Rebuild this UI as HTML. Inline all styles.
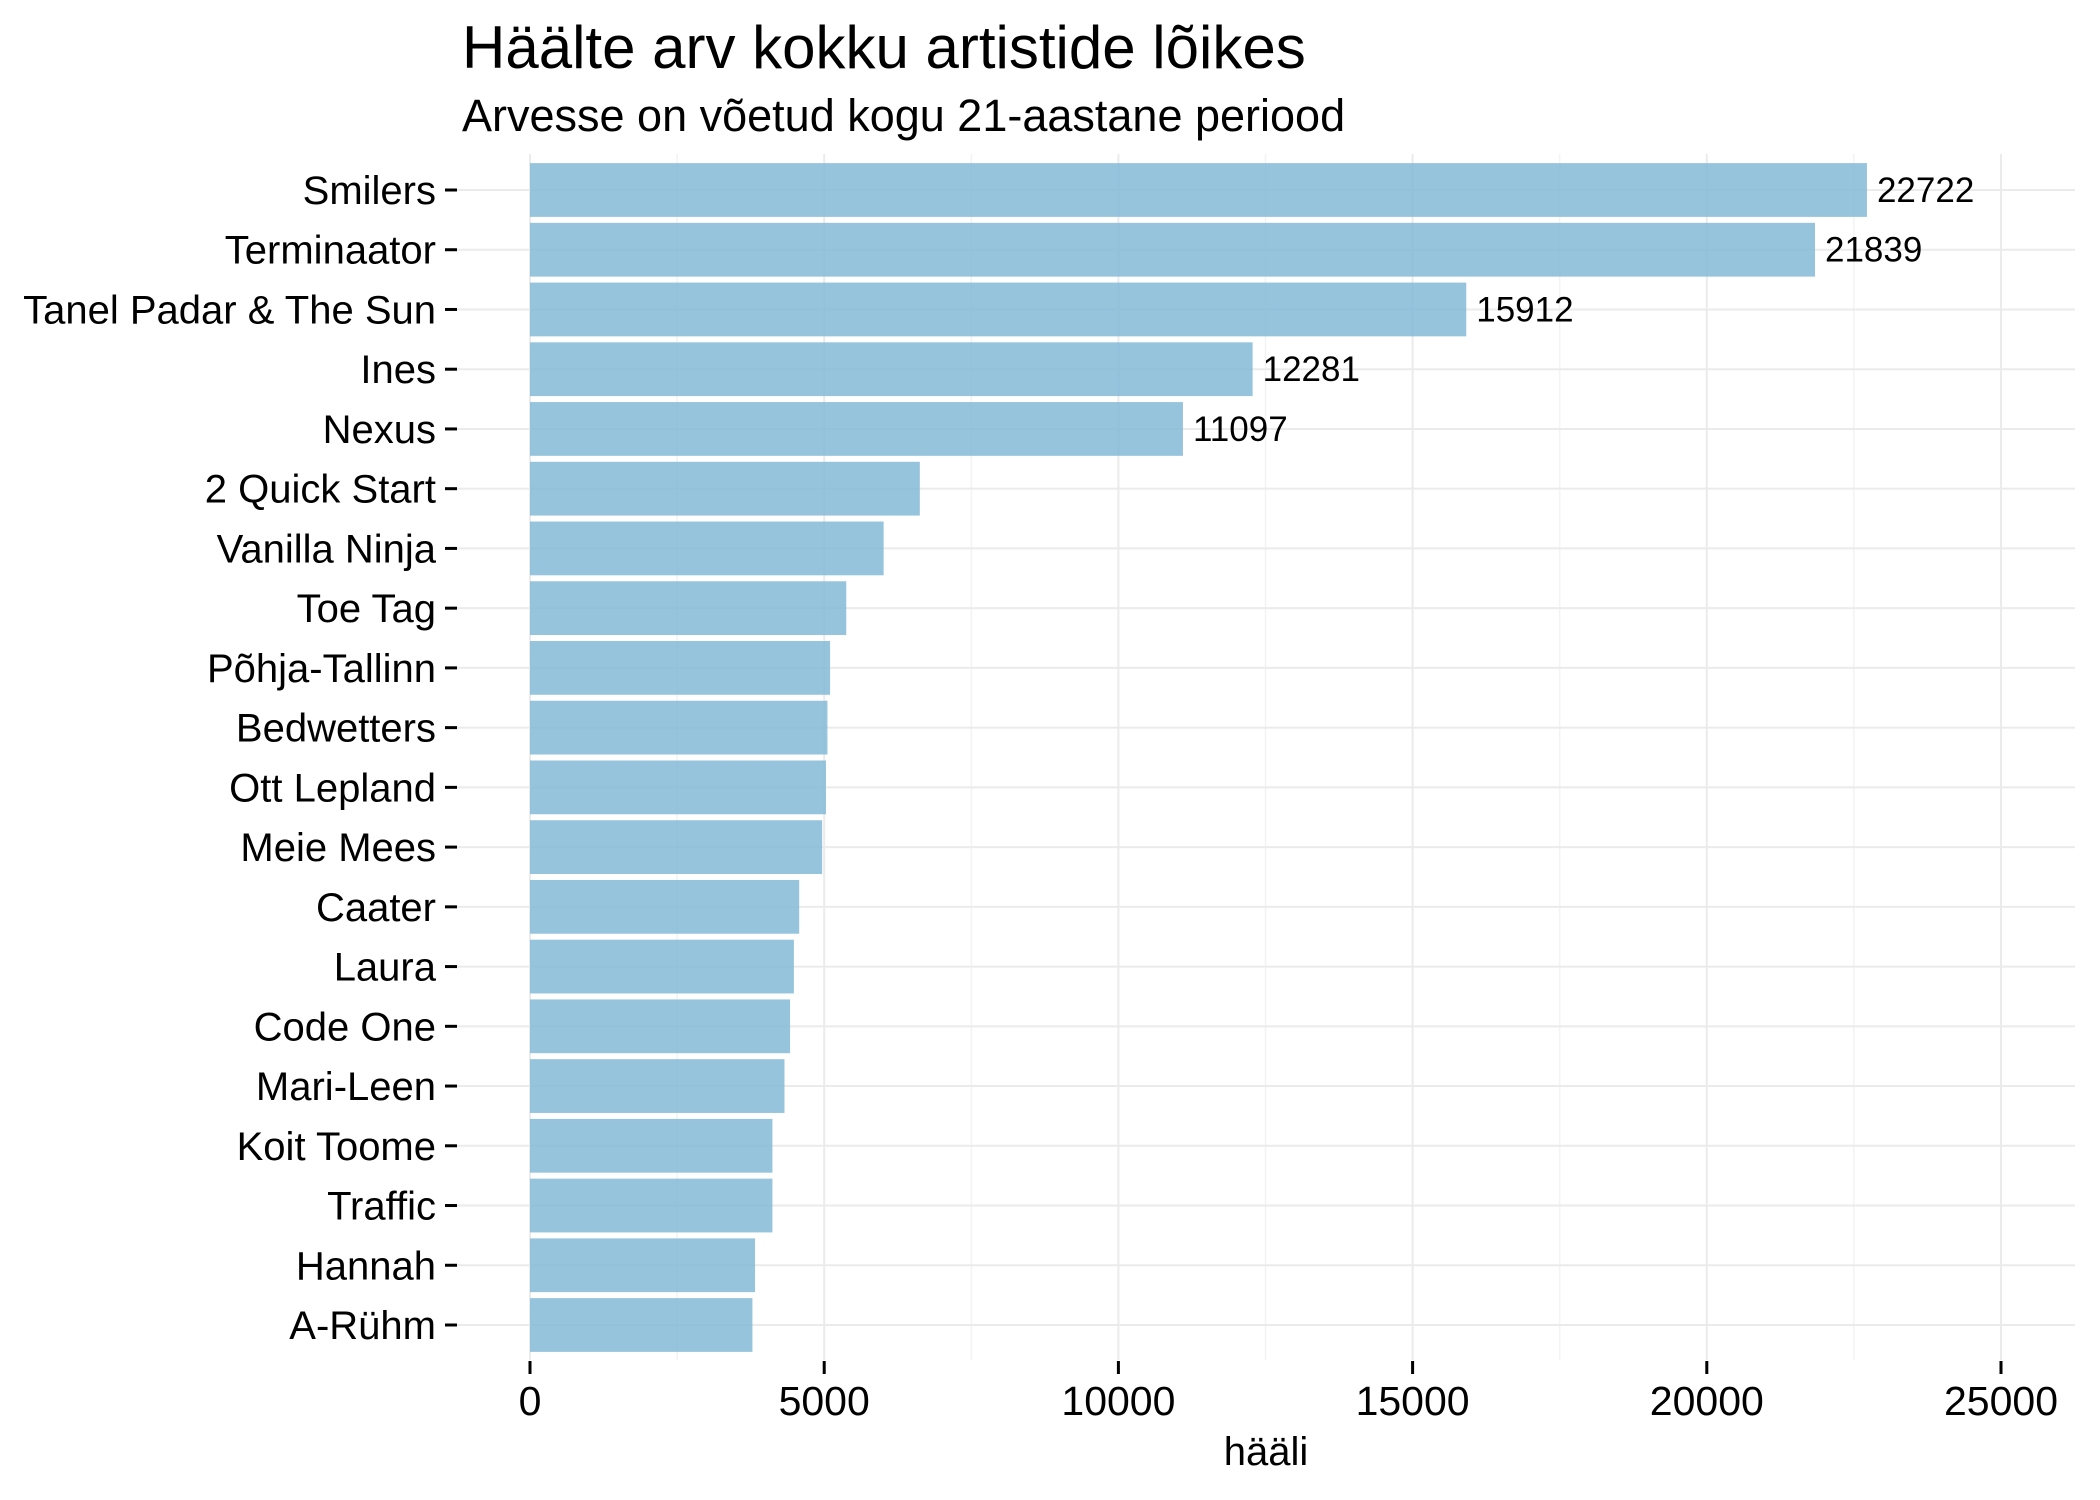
<!DOCTYPE html>
<html><head><meta charset="utf-8"><style>
body{margin:0;background:#fff;}
svg{display:block;font-family:"Liberation Sans",Arial,sans-serif;}
</style></head><body>
<svg id="chart" width="2100" height="1500" viewBox="0 0 2100 1500">
<text x="462" y="68" font-size="60" fill="#000">Häälte arv kokku artistide lõikes</text>
<text x="462" y="131" font-size="45" fill="#000">Arvesse on võetud kogu 21-aastane periood</text>
<g id="grid"></g><g id="bars"></g><g id="labels"></g><g id="axes"></g>
<text x="1266" y="1465" font-size="40" text-anchor="middle" fill="#000">hääli</text>
</svg>
<script>
const artists = ["Smilers","Terminaator","Tanel Padar & The Sun","Ines","Nexus","2 Quick Start","Vanilla Ninja","Toe Tag","Põhja-Tallinn","Bedwetters","Ott Lepland","Meie Mees","Caater","Laura","Code One","Mari-Leen","Koit Toome","Traffic","Hannah","A-Rühm"];
const votes = [22722,21839,15912,12281,11097,6625,6010,5375,5100,5055,5030,4965,4575,4485,4420,4325,4120,4120,3825,3780];
const printed = [true,true,true,true,true,false,false,false,false,false,false,false,false,false,false,false,false,false,false,false];
const xTicks = [0,5000,10000,15000,20000,25000];
const xMinor = [2500,7500,12500,17500,22500];

const NS="http://www.w3.org/2000/svg";
const x0=530, pxPer=(2001-530)/25000;
const X=v=>x0+v*pxPer;
const panelTop=154, panelBottom=1360, panelLeft=457, panelRight=2075;
const yTop=190, band=(1325-190)/(artists.length-1);
const Y=i=>yTop+i*band;
function mk(tag,attrs,parent){const e=document.createElementNS(NS,tag);for(const k in attrs)e.setAttribute(k,attrs[k]);parent.appendChild(e);return e;}
const grid=document.getElementById('grid'),bars=document.getElementById('bars'),labels=document.getElementById('labels'),axes=document.getElementById('axes');
xMinor.forEach(v=>{const l=mk('line',{x1:X(v),x2:X(v),y1:panelTop,y2:panelBottom,stroke:'#f3f3f3','stroke-width':1.5},grid);

});
xTicks.forEach(v=>{const l=mk('line',{x1:X(v),x2:X(v),y1:panelTop,y2:panelBottom,stroke:'#ebebeb','stroke-width':2},grid);


const t=mk('line',{x1:X(v),x2:X(v),y1:1361,y2:1374,stroke:'#000','stroke-width':3},axes);


const tx=mk('text',{x:X(v),y:1415,'font-size':41,'text-anchor':'middle',fill:'#000'},axes);
tx.textContent=v;

});
artists.forEach((a,i)=>{const y=Y(i);
const g=mk('line',{x1:panelLeft,x2:panelRight,y1:y,y2:y,stroke:'#ebebeb','stroke-width':2},grid);


const r=mk('rect',{x:X(0),y:y-band*0.45,width:X(votes[i])-X(0),height:band*0.9,fill:'#7fb7d6','fill-opacity':0.82},bars);


if(printed[i]){const t=mk('text',{x:X(votes[i])+10,y:y+12,'font-size':35,fill:'#000'},labels);t.textContent=votes[i];

}
const tk=mk('line',{x1:445,x2:457,y1:y,y2:y,stroke:'#000','stroke-width':3},axes);


const lb=mk('text',{x:436,y:y+14,'font-size':40,'text-anchor':'end',fill:'#000'},axes);lb.textContent=a;

});
</script>
</body></html>
